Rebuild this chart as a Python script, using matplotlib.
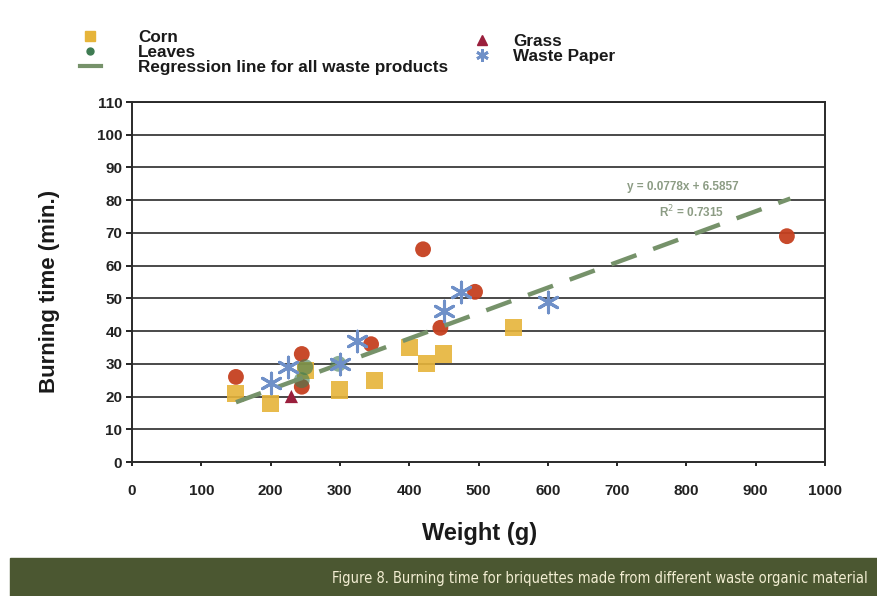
import matplotlib
matplotlib.use("Agg")
import matplotlib.pyplot as plt
from matplotlib.lines import Line2D
from matplotlib.patches import Rectangle
import numpy as np

plt.rcParams['font.family'] = ['Liberation Sans', 'DejaVu Sans']

# ---- data ----
corn_x = [150, 200, 250, 300, 350, 400, 425, 450, 550]
corn_y = [21, 18, 28, 22, 25, 35, 30, 33, 41]
leaves_x = [245, 250, 298]
leaves_y = [25, 29, 30]
grass_x = [230]
grass_y = [20]
paper_x = [200, 225, 300, 325, 450, 475, 600]
paper_y = [24, 29, 30, 37, 46, 52, 49]
other_x = [150, 245, 245, 345, 420, 445, 495, 945]
other_y = [26, 33, 23, 36, 65, 41, 52, 69]
reg_slope = 0.0778
reg_intercept = 6.5857
reg_range = [150, 950]
eq_text = "y = 0.0778x + 6.5857"
r2_text = "R$^2$ = 0.7315"
x_ticks = list(range(0, 1001, 100))
y_ticks = list(range(0, 111, 10))

# ---- colours ----
c_corn = '#E6B43A'
c_leaves = '#3E7B52'
c_grass = '#9A1F3C'
c_paper = '#6F90C8'
c_other = '#C5401F'
c_reg = '#76926A'

W, H = 877, 596
fig = plt.figure(figsize=(W / 100, H / 100), dpi=100)
ax = fig.add_axes([132 / W, 1 - 462 / H, (825 - 132) / W, (462 - 102) / H])

for y in y_ticks[1:]:
    ax.axhline(y, color='#2a2a2a', lw=1.2, zorder=1)

rx = np.array(reg_range, dtype=float)
ax.plot(rx, reg_slope * rx + reg_intercept, color=c_reg, lw=3.2,
        dashes=(6, 4), zorder=5, solid_capstyle='butt')

ax.scatter(corn_x, corn_y, marker='s', s=150, color=c_corn, alpha=0.9,
           edgecolors='none', zorder=3)
ax.scatter(other_x, other_y, marker='o', s=130, color=c_other, alpha=0.95,
           edgecolors='none', zorder=4)
ax.scatter(leaves_x, leaves_y, marker='o', s=130, color=c_leaves, alpha=0.6,
           edgecolors='none', zorder=4)
ax.scatter(grass_x, grass_y, marker='^', s=90, color=c_grass,
           edgecolors='none', zorder=4)
ax.scatter(paper_x, paper_y, marker=(6, 2, 0), s=220, color=c_paper,
           linewidths=2.2, zorder=6)

ax.text(795, 84, eq_text, color='#8C9C84', fontsize=8.5, fontweight='bold',
        ha='center', va='center')
ax.text(808, 76.5, r2_text, color='#8C9C84', fontsize=8.5, fontweight='bold',
        ha='center', va='center')

ax.set_xlim(0, 1000)
ax.set_ylim(0, 110)
ax.set_xticks(x_ticks)
ax.set_yticks(y_ticks)
ax.tick_params(axis='x', length=3, pad=13, labelsize=11, width=1.2)
ax.tick_params(axis='y', length=4, pad=3, labelsize=11, width=1.2)
for lab in ax.get_xticklabels() + ax.get_yticklabels():
    lab.set_fontweight('bold')
    lab.set_color('#222222')
for sp in ax.spines.values():
    sp.set_linewidth(1.4)
    sp.set_color('#2a2a2a')

ax.set_xlabel('Weight (g)', fontsize=17, fontweight='bold', color='#1a1a1a')
ax.set_ylabel('Burning time (min.)', fontsize=16, fontweight='bold', color='#1a1a1a')
ax.xaxis.set_label_coords((480 - 132) / 693, (462 - 522) / 360)
ax.yaxis.set_label_coords((60 - 132) / 693, (462 - 291) / 360)

# ---- legends ----
h_corn = Line2D([], [], marker='s', color=c_corn, ls='none', ms=7)
h_leaves = Line2D([], [], marker='o', color=c_leaves, ls='none', ms=5)
h_reg = Line2D([], [], color=c_reg, lw=3)
h_grass = Line2D([], [], marker='^', color=c_grass, ls='none', ms=7)
h_paper = Line2D([], [], marker=(6, 2, 0), color=c_paper, ls='none', ms=9, mew=2)

leg_kw = dict(frameon=False, labelspacing=0.0, borderpad=0,
              borderaxespad=0, handlelength=1.2, loc='upper left',
              prop={'weight': 'bold', 'size': 12.3})
leg1 = fig.legend([h_corn, h_leaves, h_reg],
                  ['Corn', 'Leaves', 'Regression line for all waste products'],
                  bbox_to_anchor=(80 / W, 1 - 30 / H), handletextpad=2.2, **leg_kw)
leg2 = fig.legend([h_grass, h_paper], ['Grass', 'Waste Paper'],
                  bbox_to_anchor=(472 / W, 1 - 34 / H), handletextpad=1.2, **leg_kw)
for lg in (leg1, leg2):
    for t in lg.get_texts():
        t.set_color('#1a1a1a')

# ---- caption banner ----
fig.patches.append(Rectangle((10 / W, 0), 1 - 10 / W, (596 - 558) / H,
                             transform=fig.transFigure, color='#4B5731', zorder=0))
fig.text(868 / W, (596 - 578) / H,
         'Figure 8. Burning time for briquettes made from different waste organic material',
         family='DejaVu Sans', fontstretch='condensed',
         fontsize=10.5, color='#F2EDD2', ha='right', va='center')

fig.savefig('out.png', dpi=100)
